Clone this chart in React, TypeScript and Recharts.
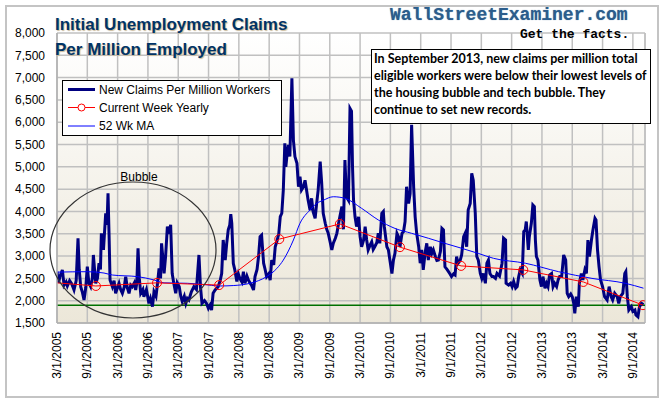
import React from 'react';
import { LineChart, Line, XAxis, YAxis, CartesianGrid, ReferenceLine } from 'recharts';

// x positions are months counted from 3/1/2005
const tickMonths = [0, 6, 12, 18, 24, 30, 36, 42, 48, 54, 60, 66, 72, 78, 84, 90, 96, 102, 108, 114];
const tickLabels = [
  '3/1/2005', '9/1/2005', '3/1/2006', '9/1/2006', '3/1/2007', '9/1/2007', '3/1/2008', '9/1/2008',
  '3/1/2009', '9/1/2009', '3/1/2010', '9/1/2010', '3/1/2011', '9/1/2011', '3/1/2012', '9/1/2012',
  '3/1/2013', '9/1/2013', '3/1/2014', '9/1/2014',
];
const yTicks = [1500, 2000, 2500, 3000, 3500, 4000, 4500, 5000, 5500, 6000, 6500, 7000, 7500, 8000];
// unlabeled minor ticks every 100
const yMinorTicks = Array.from({ length: 66 }, (_, i) => 1500 + i * 100);
const lastMonth = 116.4;
const floorLevel = 1900;

// new claims per million workers (weekly)
const claims2005to2007: [number, number][] = [
  [0, 2650], [0.3, 2400], [0.6, 2550], [1.06, 2690], [1.4, 2350], [1.8, 2420], [2.05, 2330], [2.5, 2450],
  [2.9, 2380], [3.37, 2240], [3.8, 2450], [4.16, 3400], [4.4, 2700], [4.69, 2315], [5.0, 2200], [5.35, 2015],
  [5.7, 2300], [6.0, 2765], [6.3, 2400], [6.67, 2315], [7.0, 2500], [7.2, 3025], [7.5, 2600], [7.66, 2390],
  [8.0, 2500], [8.32, 2840], [8.6, 2700], [8.78, 3510], [9.0, 3300], [9.2, 3140], [9.64, 3960], [9.9, 3700],
  [10.1, 4405], [10.3, 3500], [10.5, 2465], [10.96, 2315], [11.3, 2450], [11.6, 2165], [12.0, 2300], [12.28, 2390],
  [12.6, 2250], [12.94, 2165], [13.3, 2300], [13.6, 2540], [13.9, 2300], [14.26, 2165], [14.6, 2350], [14.9, 2315],
  [15.3, 2400], [15.58, 2240], [15.8, 2400], [16.04, 3175], [16.3, 2500], [16.57, 2165], [17.0, 2250], [17.2, 2090],
  [17.7, 2250], [18.2, 1940], [18.5, 2050], [18.9, 1865], [19.2, 2200], [19.6, 2100], [19.9, 2390], [20.2, 2725],
  [20.5, 2500], [20.7, 3285], [21.0, 2900], [21.2, 2610], [21.5, 3000], [21.85, 3660], [22.2, 3500], [22.5, 3700],
  [22.8, 2610], [23.1, 2400], [23.5, 2165], [23.8, 2400], [24.2, 2315], [24.5, 2100], [24.8, 1980], [25.2, 2100],
  [25.5, 1940], [25.8, 2050], [26.1, 2015], [26.6, 2200], [27.1, 2315], [27.6, 2250], [28.1, 3025], [28.4, 2315],
];
const claims2007to2010: [number, number][] = [
  [28.7, 1940], [29.2, 2000], [29.6, 1940], [29.97, 1830], [30.3, 1900], [30.6, 1790], [30.9, 2165], [31.3, 2240],
  [31.9, 2315], [32.3, 2450], [32.6, 2610], [32.9, 3360], [33.3, 2910], [33.6, 3290], [33.9, 3590], [34.2, 3700],
  [34.4, 3940], [34.6, 3735], [34.9, 2840], [35.2, 2690], [35.6, 2430], [35.9, 2600], [36.2, 2500], [36.6, 2420],
  [36.9, 2650], [37.2, 2390], [37.6, 2550], [37.9, 2460], [38.2, 2400], [38.5, 2350], [38.9, 2240], [39.2, 2540],
  [39.6, 2700], [39.9, 2990], [40.2, 3435], [40.5, 3470], [40.9, 2840], [41.2, 2700], [41.5, 2540], [41.9, 2600],
  [42.2, 2460], [42.5, 2910], [42.9, 2800], [43.2, 3210], [43.5, 3320], [43.9, 3500], [44.2, 3885], [44.5, 3960],
  [44.8, 4480], [45.1, 5530], [45.3, 5000], [45.5, 5230], [45.8, 5490], [46.1, 5230], [46.5, 6985], [46.8, 5600],
  [47.1, 5230], [47.5, 5080], [47.8, 4555], [48.1, 4780], [48.4, 4480], [48.8, 4555], [49.1, 4700], [49.4, 4480],
  [49.7, 4260], [50.1, 4030], [50.4, 4295], [50.7, 3995], [51.1, 3845], [51.4, 4180], [51.7, 4480], [52.1, 5120],
  [52.4, 4630], [52.7, 3960], [53.1, 3735], [53.4, 3600], [53.7, 3510], [54.1, 3300], [54.4, 3140], [54.7, 3290],
  [55.1, 3400], [55.4, 3510], [55.7, 3700], [56.0, 3885], [56.4, 4110], [56.7, 3600], [57.0, 5150],
];
const claims2010to2012: [number, number][] = [
  [57.3, 4330], [57.7, 4250], [58.0, 6310], [58.3, 6250], [58.5, 5000], [58.7, 4260], [59.0, 3880], [59.3, 3660],
  [59.7, 3880], [60.0, 3435], [60.3, 3210], [60.7, 3360], [61.0, 3660], [61.3, 3360], [61.6, 3140], [62.0, 3250],
  [62.3, 3320], [62.6, 3150], [62.9, 3210], [63.3, 3300], [63.6, 3510], [63.9, 3285], [64.3, 3960], [64.6, 4000],
  [64.8, 3660], [65.3, 3210], [65.6, 3140], [65.9, 2910], [66.3, 2610], [66.6, 2910], [66.9, 3060], [67.3, 3510],
  [67.6, 3435], [67.9, 3210], [68.3, 3510], [68.6, 3550], [68.9, 3770], [69.2, 4555], [69.6, 4180], [69.9, 4400],
  [70.2, 5940], [70.6, 4555], [70.9, 3880], [71.2, 3510], [71.6, 3210], [71.9, 2840], [72.2, 3140], [72.5, 2690],
  [72.9, 3100], [73.2, 3285], [73.5, 2910], [73.9, 3210], [74.2, 3060], [74.5, 3140], [74.9, 2990], [75.2, 2900],
  [75.5, 2910], [75.9, 3100], [76.2, 3620], [76.5, 3585], [76.8, 2760], [77.2, 2700], [77.5, 2650], [77.8, 2600],
  [78.1, 2540], [78.5, 2600], [78.8, 2575], [79.1, 2990], [79.4, 2840], [79.8, 2900], [80.1, 3025], [80.5, 3435],
  [80.8, 3510], [81.1, 3210], [81.4, 4035], [81.8, 4180], [82.1, 4855], [82.4, 4700], [82.8, 3960], [83.1, 2990],
  [83.4, 2910], [83.8, 2610], [84.1, 2500], [84.4, 2610], [84.8, 2390], [85.1, 2840], [85.4, 2910], [85.7, 2610],
  [86.1, 2540], [86.4, 2540],
];
const claims2012to2014: [number, number][] = [
  [86.8, 2500], [87.1, 2610], [87.6, 2550], [88.1, 2840], [88.4, 3400], [88.8, 3360], [88.9, 2390], [89.4, 2350],
  [89.8, 2390], [90.1, 2315], [90.4, 2430], [90.8, 2280], [91.1, 2315], [91.4, 2540], [91.7, 2690], [92.1, 2610],
  [92.4, 3550], [92.7, 3590], [92.9, 3775], [93.3, 3140], [93.5, 3435], [93.9, 3735], [94.2, 4145], [94.5, 4110],
  [94.7, 3360], [94.9, 2990], [95.2, 2910], [95.6, 2465], [95.9, 2315], [96.2, 2540], [96.6, 2280], [96.9, 2390],
  [97.2, 2315], [97.5, 2576], [97.9, 2610], [98.2, 2315], [98.5, 2390], [98.9, 2315], [99.2, 2465], [99.5, 2540],
  [99.9, 2540], [100.3, 3025], [100.7, 2910], [101.0, 2165], [101.3, 2090], [101.7, 2150], [102.0, 2090], [102.3, 1940],
  [102.5, 1715], [102.8, 2090], [103.2, 1865], [103.4, 2390], [103.8, 2610], [104.1, 2465], [104.5, 2690], [104.8, 2610],
  [105.1, 3360], [105.4, 2990], [105.8, 3360], [106.1, 3590], [106.5, 3845], [106.7, 3810], [107.0, 3140], [107.3, 2765],
  [107.6, 2465], [108.0, 2315], [108.4, 2090], [108.9, 2015], [109.3, 2315], [109.7, 2090], [110.0, 2015], [110.4, 2165],
  [110.9, 2090], [111.2, 1940], [111.5, 2090], [112.0, 2165], [112.4, 2610], [112.6, 2650], [112.9, 2090], [113.2, 1790],
  [113.7, 1865], [114.0, 1760], [114.4, 1790], [114.6, 1680], [115.0, 1640], [115.3, 1865], [115.7, 1940], [116.1, 1915],
];

// current week, yearly comparison (first point has no marker)
const yearlyMonths = [0, 7.7, 19.8, 32.1, 44.0, 56.0, 67.9, 80.0, 92.3, 104.2, 116.0];
const yearlyValues = [2400, 2330, 2400, 2350, 3380, 3720, 3200, 2780, 2690, 2420, 1900];

// 52 week moving average
const maMonths = [0, 6, 9.3, 11, 15.9, 19.2, 21.2, 25.8, 28.9, 32.3, 35, 38.2, 41.5, 43.5, 44.8, 46.8, 48.1, 50.1, 51.4,
  52.7, 54.7, 57, 60.3, 63.6, 66.9, 70.2, 73.5, 76.8, 80.1, 83.4, 86.4, 92.7, 99.3, 105.9, 112.5, 116.1];
const maValues = [2640, 2650, 2620, 2575, 2540, 2465, 2400, 2390, 2365, 2330, 2340, 2390, 2540, 2720, 2910, 3360, 3735,
  4035, 4180, 4250, 4330, 4295, 4070, 3810, 3620, 3510, 3400, 3285, 3175, 3060, 2950, 2840, 2650, 2500, 2390, 2280];

const claimsData = [...claims2005to2007, ...claims2007to2010, ...claims2010to2012, ...claims2012to2014]
  .map(([t, v]) => ({ t, v }));
const yearlyData = yearlyMonths.map((t, i) => ({ t, v: yearlyValues[i] }));
const maData = maMonths.map((t, i) => ({ t, v: maValues[i] }));

const arial = '"Liberation Sans", Arial, sans-serif';

const XTick = (props: any) => {
  const { x, y, payload } = props;
  const label = tickLabels[tickMonths.indexOf(payload.value)];
  return (
    <text x={x} y={y} transform={`rotate(-90 ${x} ${y})`} textAnchor="end" dominantBaseline="central"
      fontSize={12} fontFamily={arial} fill="#000">
      {label}
    </text>
  );
};

const YearDot = (props: any) => {
  const { cx, cy, index } = props;
  if (index === 0) return <g key={`yd${index}`} />;
  return <circle key={`yd${index}`} cx={cx} cy={cy} r={4.5} fill="none" stroke="#ff0000" strokeWidth={1} />;
};

const LegendBox = () => (
  <div style={{ position: 'absolute', left: 62, top: 80, width: 220, height: 56, boxSizing: 'border-box',
    border: '1px solid #000', background: '#fff', fontFamily: arial, fontSize: 12, color: '#000' }}>
    <svg width={220} height={56} style={{ position: 'absolute', left: -1, top: -1 }}>
      <line x1={6} x2={33} y1={9.5} y2={9.5} stroke="#000080" strokeWidth={3} />
      <line x1={6} x2={33} y1={27.5} y2={27.5} stroke="#ff0000" strokeWidth={1} />
      <circle cx={19.5} cy={27.5} r={3.5} fill="#fff" stroke="#ff0000" strokeWidth={1} />
      <line x1={6} x2={33} y1={46} y2={46} stroke="#0000ff" strokeWidth={1} />
      <text x={37} y={13.5} fontSize={12} fontFamily={arial}>New Claims Per Million Workers</text>
      <text x={37} y={31.5} fontSize={12} fontFamily={arial}>Current Week Yearly</text>
      <text x={37} y={50} fontSize={12} fontFamily={arial}>52 Wk MA</text>
    </svg>
  </div>
);

const App: React.FC = () => {
  return (
    <div style={{ position: 'absolute', left: 0, top: 0, width: 664, height: 402, background: '#fff' }}>
      <LineChart width={664} height={402} data={claimsData}
        margin={{ top: 33, right: 19, bottom: 19, left: 0 }}>
        <defs>
          <linearGradient id="plotBg" x1="0" y1="0" x2="0" y2="1">
            <stop offset="0%" stopColor="#ffffff" />
            <stop offset="100%" stopColor="#ece7d9" />
          </linearGradient>
        </defs>
        <CartesianGrid stroke="#c0c0c0" strokeWidth={1.5} fill="url(#plotBg)" />
        <XAxis type="number" dataKey="t" domain={[0, lastMonth]} ticks={tickMonths} interval={0}
          tick={<XTick />} tickLine={false} tickSize={0} tickMargin={9} height={60}
          axisLine={{ stroke: '#b0b0b0', strokeWidth: 1.5 }} allowDataOverflow />
        <YAxis type="number" domain={[1500, 8000]} ticks={yTicks} interval={0} width={57}
          tickFormatter={(v: number) => v.toLocaleString('en-US')} tickLine={false} tickSize={0} tickMargin={12}
          tick={{ fontSize: 12, fontFamily: arial, fill: '#000' }}
          axisLine={{ stroke: '#b0b0b0', strokeWidth: 1.5 }} allowDataOverflow />
        <YAxis yAxisId="minor" type="number" domain={[1500, 8000]} ticks={yMinorTicks} interval={0} width={0}
          mirror tick={false} tickSize={3} tickLine={{ stroke: '#a8a8a8' }} axisLine={false} allowDataOverflow />
        <ReferenceLine x={lastMonth} stroke="#c0c0c0" strokeWidth={1.5} />
        <ReferenceLine y={floorLevel} stroke="#007000" strokeWidth={1.5} />
        <Line data={claimsData} dataKey="v" type="linear" stroke="#000080" strokeWidth={3} dot={false}
          isAnimationActive={false} strokeLinejoin="miter" />
        <Line data={maData} dataKey="v" type="monotone" stroke="#0000ff" strokeWidth={1} dot={false}
          isAnimationActive={false} />
        <Line data={yearlyData} dataKey="v" type="linear" stroke="#ff0000" strokeWidth={1} dot={<YearDot />}
          isAnimationActive={false} />
      </LineChart>

      <svg width={664} height={402} style={{ position: 'absolute', left: 0, top: 0, pointerEvents: 'none' }}>
        <ellipse cx={133} cy={250} rx={83} ry={68} fill="none" stroke="#333" strokeWidth={1.2} />
        <text x={139} y={181} textAnchor="middle" fontSize={12} fontFamily={arial} fill="#000">Bubble</text>
      </svg>

      <div style={{ position: 'absolute', left: 55, top: 16, fontFamily: arial, fontWeight: 'bold', fontSize: 17,
        lineHeight: '17px', color: '#003366', textShadow: '1px 1px 1px #c9b99b', whiteSpace: 'nowrap' }}>
        Initial Unemployment Claims
      </div>
      <div style={{ position: 'absolute', left: 55, top: 41, fontFamily: arial, fontWeight: 'bold', fontSize: 17,
        lineHeight: '17px', color: '#003366', textShadow: '1px 1px 1px #c9b99b', whiteSpace: 'nowrap' }}>
        Per Million Employed
      </div>

      <div style={{ position: 'absolute', left: 390, top: 6, fontFamily: '"Liberation Mono", monospace', fontWeight: 'bold',
        fontSize: 18, lineHeight: '18px', color: '#2b5d8c', textShadow: '0 0 1px #6d8fb0', whiteSpace: 'nowrap' }}>
        WallStreetExaminer.com
      </div>
      <div style={{ position: 'absolute', left: 520, top: 28, fontFamily: '"Liberation Mono", monospace', fontWeight: 'bold',
        fontSize: 13, lineHeight: '14px', color: '#000', whiteSpace: 'nowrap' }}>
        Get the facts.
      </div>

      <div style={{ position: 'absolute', left: 371, top: 49, width: 280, height: 75, boxSizing: 'border-box',
        border: '1px solid #000', background: '#fff', padding: '0 0 0 2px', fontFamily: 'Lato, sans-serif',
        fontWeight: 'bold', fontSize: 12.5, lineHeight: '17px', color: '#000', whiteSpace: 'nowrap' }}>
        <div>In September 2013, new claims per million total</div>
        <div>eligible workers were below their lowest levels of</div>
        <div>the housing bubble and tech bubble. They</div>
        <div>continue to set new records.</div>
      </div>

      <LegendBox />

      <div style={{ position: 'absolute', left: 5, top: 5, width: 654, height: 393, boxSizing: 'border-box',
        border: '2px solid #c4c4c4', pointerEvents: 'none' }} />
    </div>
  );
};

export default App;
